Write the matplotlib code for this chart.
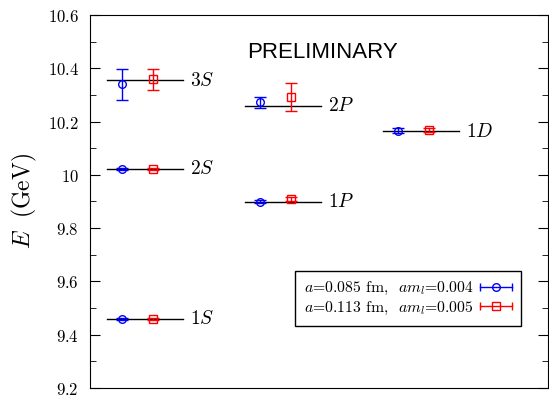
import matplotlib
matplotlib.use("Agg")
import matplotlib.pyplot as plt
from matplotlib.lines import Line2D
from matplotlib.legend_handler import HandlerBase
from matplotlib.ticker import MultipleLocator, FuncFormatter

plt.rcParams["mathtext.fontset"] = "cm"
plt.rcParams["font.serif"] = ["cmr10", "DejaVu Serif"]
plt.rcParams["axes.formatter.use_mathtext"] = True

# experimental levels (GeV)
states = ["1S", "2S", "3S", "1P", "2P", "1D"]
exp_mass = [9.460, 10.023, 10.355, 9.900, 10.260, 10.164]
columns = [0, 0, 0, 1, 1, 2]

# lattice results, a=0.085 fm
blue_val = [9.460, 10.023, 10.340, 9.899, 10.272, 10.166]
blue_err = [0.003, 0.004, 0.058, 0.005, 0.022, 0.010]
# lattice results, a=0.113 fm
red_val = [9.460, 10.023, 10.358, 9.909, 10.291, 10.168]
red_err = [0.003, 0.004, 0.039, 0.007, 0.053, 0.008]

col_left = [0.37, 3.38, 6.40]
col_width = 1.66


class HandlerXErr(HandlerBase):
    def __init__(self, marker, color, ms):
        super().__init__()
        self.marker, self.color, self.ms = marker, color, ms

    def create_artists(self, legend, orig_handle, xdescent, ydescent,
                       width, height, fontsize, trans):
        y = height / 2 - ydescent
        bar = Line2D([-xdescent, width - xdescent], [y, y], color=self.color,
                     lw=1, marker="|", ms=6, mew=1, transform=trans)
        pt = Line2D([width / 2 - xdescent], [y], color=self.color, ls="",
                    marker=self.marker, ms=self.ms, mfc="none", mew=1,
                    transform=trans)
        return [bar, pt]


fig = plt.figure(figsize=(5.49, 3.98), dpi=100)
ax = fig.add_axes([90 / 549, 10 / 398, 458 / 549, 373 / 398])

for i, s in enumerate(states):
    x0 = col_left[columns[i]]
    ax.plot([x0, x0 + col_width], [exp_mass[i]] * 2, color="black", lw=1)
    ax.text(x0 + col_width + 0.15, exp_mass[i], "$" + s[0] + " " + s[1] + "$",
            fontsize=14, va="center", ha="left")
    ax.errorbar(x0 + 0.33, blue_val[i], yerr=blue_err[i], color="blue",
                marker="o", ms=5.5, mfc="none", mew=1, capsize=4, lw=1)
    ax.errorbar(x0 + 1.0, red_val[i], yerr=red_err[i], color="red",
                marker="s", ms=6, mfc="none", mew=1, capsize=4, lw=1)

ax.text(0.508, 0.90, "PRELIMINARY", transform=ax.transAxes, fontsize=16,
        ha="center", va="center", family="Liberation Sans")

ax.set_xlim(0, 10)
ax.set_ylim(9.2, 10.6)
ax.yaxis.set_major_locator(MultipleLocator(0.2))
ax.yaxis.set_minor_locator(MultipleLocator(0.1))
ax.yaxis.set_major_formatter(FuncFormatter(lambda v, p: "$%g$" % round(v, 2)))
ax.tick_params(axis="y", which="both", direction="in", right=True, labelsize=12, pad=8)
ax.tick_params(axis="y", which="major", length=7)
ax.tick_params(axis="y", which="minor", length=4)
ax.set_xticks([])
ax.set_ylabel("$E\\ \\ \\mathrm{(GeV)}$", fontsize=17, labelpad=6)

h1 = Line2D([], [])
h2 = Line2D([], [])
leg = ax.legend([h1, h2],
                ["$a$=0.085 fm,  $am_l$=0.004", "$a$=0.113 fm,  $am_l$=0.005"],
                handler_map={h1: HandlerXErr("o", "blue", 5.5),
                             h2: HandlerXErr("s", "red", 6)},
                loc="lower right", bbox_to_anchor=(0.941, 0.166),
                borderaxespad=0, markerfirst=False, fancybox=False,
                edgecolor="black", framealpha=1, handlelength=2.0,
                borderpad=0.6, labelspacing=0.15, handletextpad=0.4,
                prop={"family": "serif", "size": 11.3})
leg.get_frame().set_linewidth(1)

fig.savefig("out.png", dpi=100)
